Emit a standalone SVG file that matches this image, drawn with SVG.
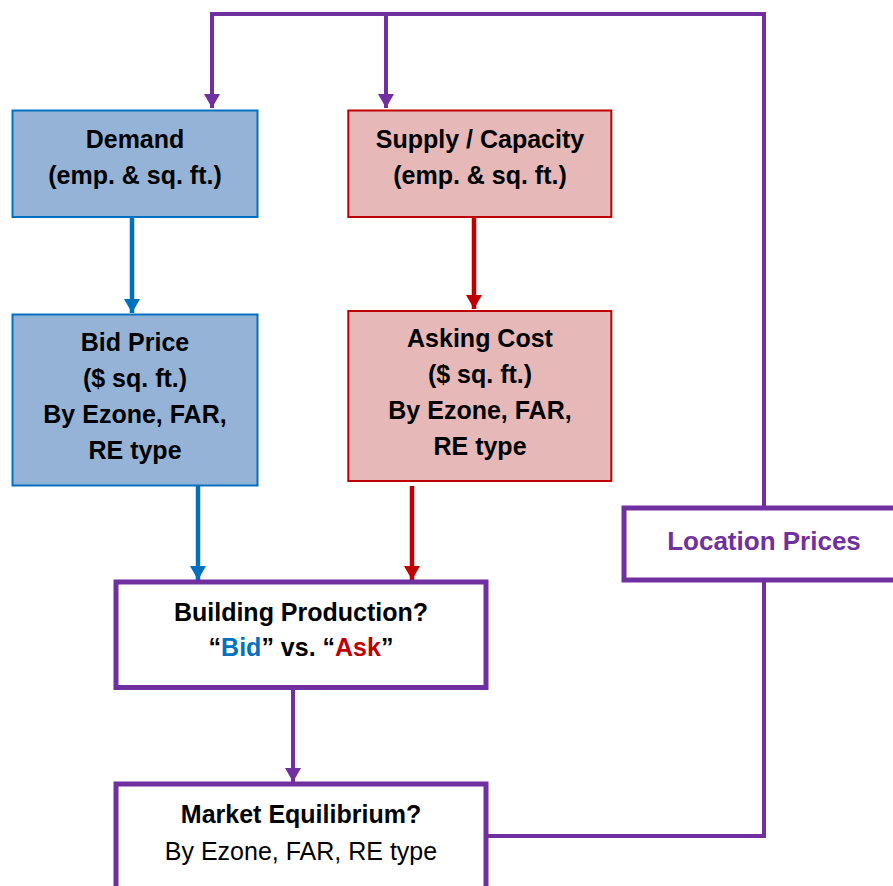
<svg xmlns="http://www.w3.org/2000/svg" width="893" height="886" viewBox="0 0 893 886">
<defs>
<style>
.t{font-family:"Liberation Sans",Arial,sans-serif;font-size:25px;font-weight:bold;fill:#000;text-anchor:middle}
.r{font-weight:normal}
.blueBox{fill:#95B3D7;stroke:#0070C0;stroke-width:2}
.redBox{fill:#E6B9B8;stroke:#C00000;stroke-width:2}
.purBox{fill:#fff;stroke:#7030A0;stroke-width:5}
.cp{fill:none;stroke:#7030A0;stroke-width:4}
.cb{fill:none;stroke:#0070C0;stroke-width:4.5}
.cr{fill:none;stroke:#C00000;stroke-width:4.5}
</style>
<marker id="ap" viewBox="0 0 14 16" refX="14" refY="8" markerWidth="14" markerHeight="16" markerUnits="userSpaceOnUse" orient="auto"><path d="M0,0L14,8L0,16z" fill="#7030A0"/></marker>
<marker id="ab" viewBox="0 0 14 16" refX="14" refY="8" markerWidth="14" markerHeight="16" markerUnits="userSpaceOnUse" orient="auto"><path d="M0,0L14,8L0,16z" fill="#0070C0"/></marker>
<marker id="ar" viewBox="0 0 14 16" refX="14" refY="8" markerWidth="14" markerHeight="16" markerUnits="userSpaceOnUse" orient="auto"><path d="M0,0L14,8L0,16z" fill="#C00000"/></marker>
</defs>
<rect width="893" height="886" fill="#fff"/>
<g id="connectors">
<path class="cp" d="M764,506V14H212V108" marker-end="url(#ap)"/>
<path class="cp" d="M386,14V108" marker-end="url(#ap)"/>
<path class="cp" d="M488,836H764V582"/>
<path class="cp" d="M293,690V782" marker-end="url(#ap)"/>
<path class="cb" d="M132,218V313" marker-end="url(#ab)"/>
<path class="cb" d="M198,486V580" marker-end="url(#ab)"/>
<path class="cr" d="M474,218V309" marker-end="url(#ar)"/>
<path class="cr" d="M412,486V580" marker-end="url(#ar)"/>
</g>
<g id="demand">
<rect class="blueBox" x="12.5" y="110.5" width="245" height="106.5"/>
<text class="t" x="135" y="148">Demand</text>
<text class="t" x="135" y="184">(emp. &amp; sq. ft.)</text>
</g>
<g id="supply">
<rect class="redBox" x="348.3" y="110.5" width="263" height="106.5"/>
<text class="t" x="480" y="148">Supply / Capacity</text>
<text class="t" x="480" y="184">(emp. &amp; sq. ft.)</text>
</g>
<g id="bidprice">
<rect class="blueBox" x="12.5" y="314.5" width="245" height="171"/>
<text class="t" x="135" y="351">Bid Price</text>
<text class="t" x="135" y="387">($ sq. ft.)</text>
<text class="t" x="135" y="423">By Ezone, FAR,</text>
<text class="t" x="135" y="459">RE type</text>
</g>
<g id="askingcost">
<rect class="redBox" x="348.3" y="311" width="263" height="170"/>
<text class="t" x="480" y="347">Asking Cost</text>
<text class="t" x="480" y="383">($ sq. ft.)</text>
<text class="t" x="480" y="419">By Ezone, FAR,</text>
<text class="t" x="480" y="455">RE type</text>
</g>
<g id="building">
<rect class="purBox" x="116" y="582" width="370" height="105.5"/>
<text class="t" x="301" y="621">Building Production?</text>
<text class="t" x="301" y="656">“<tspan fill="#0070C0">Bid</tspan>” vs. “<tspan fill="#C00000">Ask</tspan>”</text>
</g>
<g id="market">
<rect class="purBox" x="116" y="784" width="370" height="130"/>
<text class="t" x="301" y="823">Market Equilibrium?</text>
<text class="t r" x="301" y="860">By Ezone, FAR, RE type</text>
</g>
<g id="location">
<rect class="purBox" x="624" y="508" width="300" height="72"/>
<text class="t" x="764" y="550" style="fill:#7030A0;font-size:26px">Location Prices</text>
</g>
</svg>
